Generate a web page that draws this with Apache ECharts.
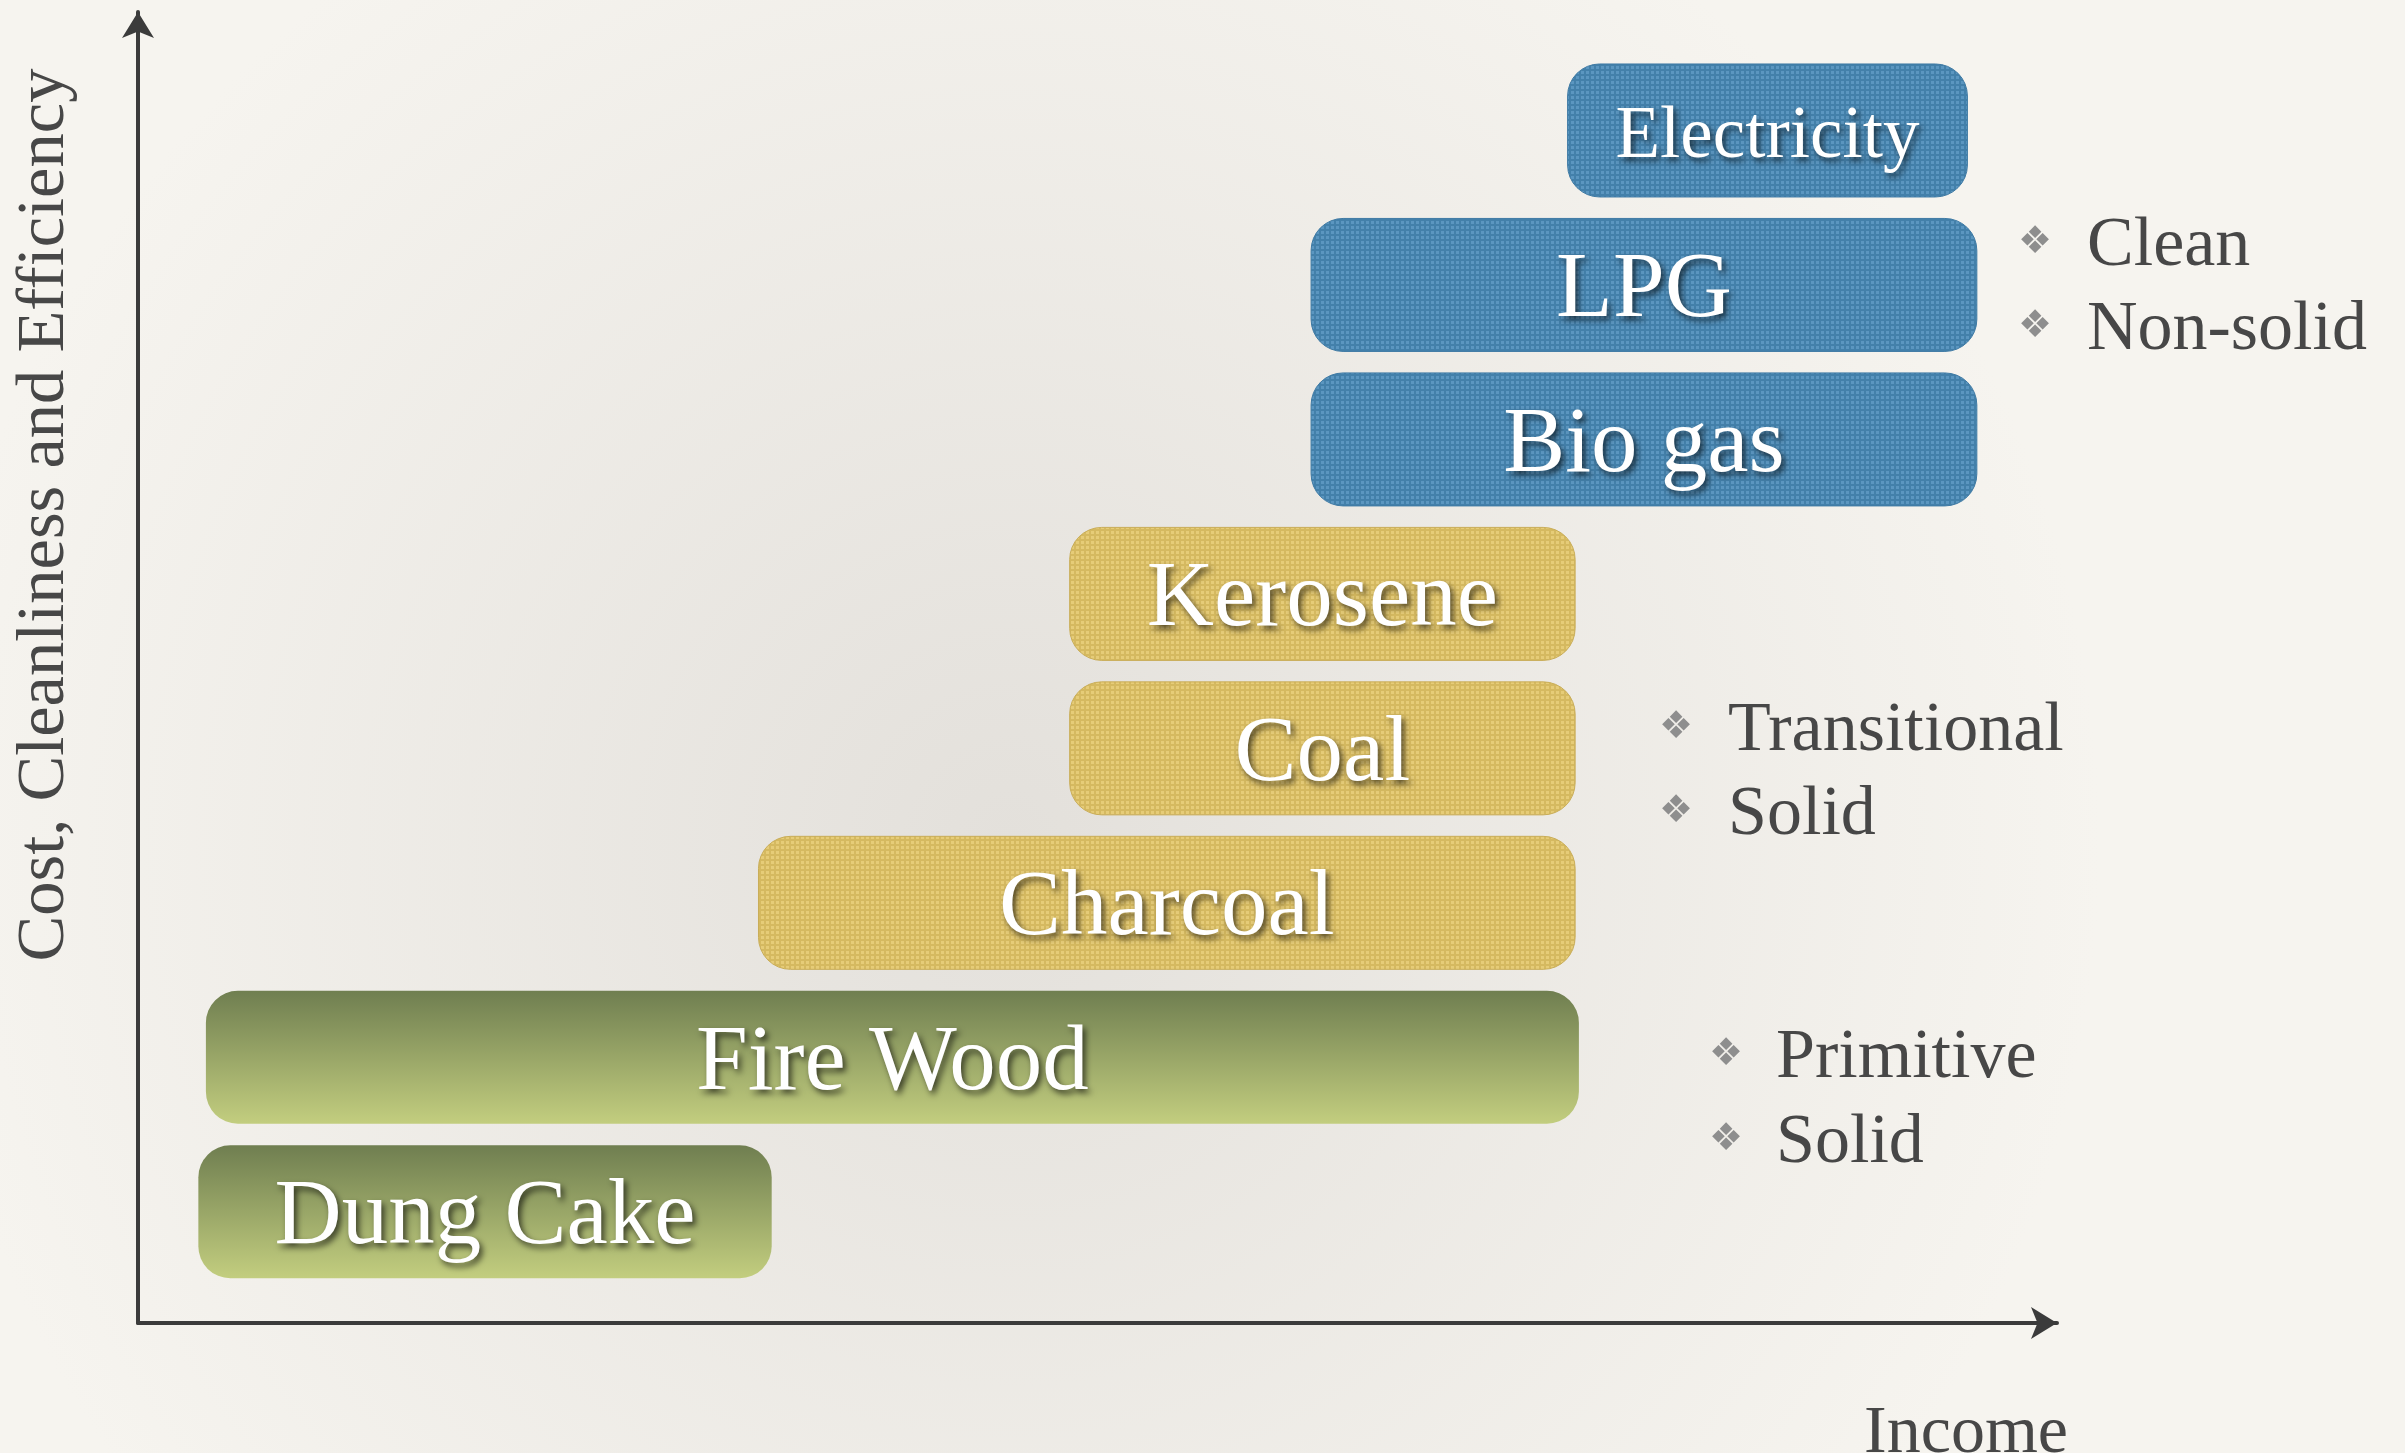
<!DOCTYPE html>
<html>
<head>
<meta charset="utf-8">
<script src="https://cdn.jsdelivr.net/npm/echarts@6/dist/echarts.min.js"></script>
<style>
  html, body { margin: 0; padding: 0; }
  #chart { width: 2405px; height: 1453px; }
</style>
</head>
<body>
<div id="chart"></div>
<script>
// fuels, bottom to top (fuel ladder)
const fuels = ['Dung Cake', 'Fire Wood', 'Charcoal', 'Coal', 'Kerosene', 'Bio gas', 'LPG', 'Electricity'];
const incomeFrom = [3.2, 3.6, 32.9, 49.4, 49.4, 62.2, 62.2, 75.8];
const incomeTo = [33.6, 76.4, 76.2, 76.2, 76.2, 97.5, 97.5, 97.0];
const fuelTier = ['primitive', 'primitive', 'transitional', 'transitional', 'transitional', 'clean', 'clean', 'clean'];

// notes on the right side of each tier
const noteLines = {
  clean: ['Clean', 'Non-solid'],
  transitional: ['Transitional', 'Solid'],
  primitive: ['Primitive', 'Solid']
};

const serif = '"Liberation Serif", "DejaVu Serif", serif';

// small textured tile, like the dotted fill of the boxes
const makeTexture = (light, dark) => {
  const c = document.createElement('canvas');
  c.width = 5;
  c.height = 5;
  const g = c.getContext('2d');
  g.fillStyle = dark;
  g.fillRect(0, 0, 5, 5);
  g.fillStyle = light;
  g.fillRect(1, 1, 3, 3);
  return c;
};

const tierFill = {
  clean: { image: makeTexture('#5b96c0', '#4380aa'), repeat: 'repeat' },
  transitional: { image: makeTexture('#e6cc78', '#d5b960'), repeat: 'repeat' },
  primitive: {
    type: 'linear', x: 0, y: 0, x2: 0, y2: 1,
    colorStops: [
      { offset: 0, color: '#6f7e50' },
      { offset: 1, color: '#c3ce7f' }
    ]
  }
};
const tierStroke = { clean: '#3f7aa4', transitional: '#c9ad58', primitive: 'rgba(0,0,0,0)' };

const chartRef = document.getElementById('chart');
const chartInstance = echarts.init(chartRef, null, { renderer: 'canvas' });

const renderItem = (params, api) => {
  const i = params.dataIndex;
  const start = api.coord([api.value(0), api.value(2)]);
  const end = api.coord([api.value(1), api.value(2)]);
  const h = api.size([0, 0.861])[1];
  const tier = fuelTier[i];
  return {
    type: 'rect',
    shape: { x: start[0], y: start[1] - h / 2, width: end[0] - start[0], height: h, r: 32 },
    style: {
      fill: tierFill[tier],
      stroke: tierStroke[tier],
      lineWidth: 1
    },
    textContent: {
      style: {
        text: fuels[i],
        fill: '#ffffff',
        font: (fuels[i] === 'Electricity' ? 73 : 93) + 'px ' + serif,
        textShadowColor: 'rgba(0,0,0,0.65)',
        textShadowBlur: 6,
        textShadowOffsetX: 3,
        textShadowOffsetY: 4
      }
    },
    textConfig: { position: 'inside', offset: [0, 7] }
  };
};

// notes text + bullets
const notePos = {
  clean: { x: 2087, bx: 2035, y: [247, 331] },
  transitional: { x: 1728, bx: 1676, y: [732, 816] },
  primitive: { x: 1776, bx: 1726, y: [1059, 1144] }
};
const graphics = [];
Object.keys(noteLines).forEach(tier => {
  const p = notePos[tier];
  noteLines[tier].forEach((line, k) => {
    graphics.push({
      type: 'text', x: p.bx, y: p.y[k] - 4,
      style: { text: '\u2756', fill: '#8e8e8e', font: '38px "DejaVu Sans"', align: 'center', verticalAlign: 'middle' }
    });
    graphics.push({
      type: 'text', x: p.x, y: p.y[k],
      style: { text: line, fill: '#474747', font: '70px ' + serif, verticalAlign: 'middle' }
    });
  });
});

const option = {
  backgroundColor: {
    type: 'radial', x: 0.42, y: 0.58, r: 0.75,
    colorStops: [
      { offset: 0, color: '#e3e0db' },
      { offset: 1, color: '#f6f4ef' }
    ]
  },
  grid: { left: 138, right: 348, top: 12, bottom: 130, outerBoundsMode: 'none', containLabel: false },
  xAxis: {
    type: 'value',
    min: 0,
    max: 101.75,
    name: 'Income',
    nameLocation: 'middle',
    nameGap: 77,
    nameTextStyle: { fontFamily: serif, fontSize: 68, color: '#474747', padding: [0, 0, 0, 1737] },
    axisLine: {
      show: true,
      onZero: false,
      symbol: ['none', 'arrow'],
      symbolSize: [24, 26],
      lineStyle: { color: '#3b3b3b', width: 4 }
    },
    axisTick: { show: false },
    axisLabel: { show: false },
    splitLine: { show: false }
  },
  yAxis: {
    type: 'value',
    min: -0.72,
    max: 7.767,
    name: 'Cost, Cleanliness and Efficiency',
    nameLocation: 'middle',
    nameGap: 58,
    nameRotate: 90,
    nameTextStyle: { fontFamily: serif, fontSize: 68.5, color: '#474747', padding: [0, 0, 0, 305] },
    axisLine: {
      show: true,
      onZero: false,
      symbol: ['none', 'arrow'],
      symbolSize: [24, 26],
      lineStyle: { color: '#3b3b3b', width: 4 }
    },
    axisTick: { show: false },
    axisLabel: { show: false },
    splitLine: { show: false }
  },
  series: [{
    type: 'custom',
    renderItem: renderItem,
    encode: { x: [0, 1], y: 2 },
    data: fuels.map((f, i) => [incomeFrom[i], incomeTo[i], i])
  }],
  graphic: graphics
};

chartInstance.setOption(option);
window.addEventListener('resize', () => chartInstance.resize());
</script>
</body>
</html>
